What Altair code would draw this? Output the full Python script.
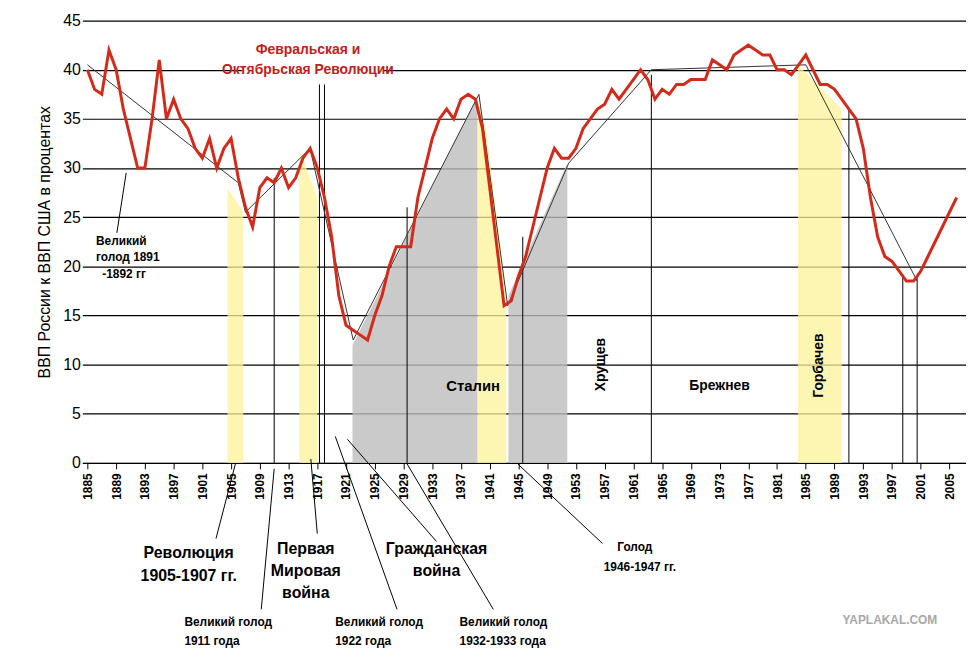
import altair as alt
import pandas as pd

# red series: Russia GDP as % of US GDP
years = list(range(1885, 2007))
gdp = [40, 38, 37.5, 42, 40, 36, 33, 30, 30, 35, 41, 35, 37, 35, 34, 32, 31, 33, 30, 32,
       33, 29, 26, 24, 28, 29, 28.5, 30, 28, 29, 31, 32, 30, 27, 23, 17, 14, 13.5, 13, 12.5,
       15, 17, 20, 22, 22, 22, 27, 30, 33, 35, 36, 35, 37, 37.5, 37, 34, 28, 22, 16, 16.5,
       19, 21, 24, 27, 30, 32, 31, 31, 32, 34, 35, 36, 36.5, 38, 37, 38, 39, 40, 39, 37,
       38, 37.5, 38.5, 38.5, 39, 39, 39, 41, 40.5, 40, 41.5, 42, 42.5, 42, 41.5, 41.5, 40, 40,
       39.5, 40.5, 41.5, 40, 38.5, 38.5, 38, 37, 36, 35, 32, 27, 23, 21, 20.5, 19.5, 18.5, 18.5,
       19.5, 21, 22.5, 24, 25.5, 27]

trend_years = [1885, 1906, 1907, 1916, 1922, 1939.5, 1943.5, 1952, 1963.5, 1985, 2000.5]
trend_vals = [40.5, 28.5, 25.5, 32, 12.5, 37.5, 16, 30.5, 40, 40.5, 18.5]

gray_years = [[1921.9, 1939.3], [1943.6, 1951.8]]
gray_tops = [[12.0, 37.3], [17.0, 30.5]]

yellow_years = [[1904.5, 1906.7], [1914.5, 1917.0], [1939.3, 1940.5, 1941.5, 1942.5, 1943.3], [1983.9, 1990.0]]
yellow_tops = [[28, 25.5], [31.9, 27], [37, 34, 28, 22, 16], [40.5, 36]]

vline_years = [1911, 1917.3, 1918, 1929.5, 1945.6, 1963.5, 1991, 1998.5, 2000.5]
vline_tops = [29, 38.5, 38.5, 26, 23, 39.5, 36, 19, 19]

# leader lines (year1, val1, year2, val2)
leaders = [
    (1890.4, 29.5, 1889.1, 23.4),
    (1905.6, -0.1, 1902.9, -7.7),
    (1916.1, 0.4, 1917.0, -7.2),
    (1921.2, 2.4, 1933.6, -8.0),
    (1944.9, -0.1, 1956.7, -8.2),
    (1911.0, -0.6, 1909.2, -14.9),
    (1919.5, 2.7, 1928.1, -14.9),
    (1929.5, -0.1, 1941.5, -14.9),
]

tick_years = list(range(1885, 2007, 4))

xs = alt.Scale(domain=[1884.3, 2007.3], nice=False, zero=False)
ys = alt.Scale(domain=[0, 45], nice=False)
FONT = "Liberation Sans"
YTITLE = "ВВП России к ВВП США в процентах"

XAX = alt.Axis(values=tick_years, format="d", labelAngle=270, labelAlign="right",
               labelBaseline="middle", labelFontSize=12, labelFontWeight="bold",
               labelOverlap=False, labelBound=False,
               grid=False, tickColor="black", domainColor="black", labelColor="black",
               labelFont=FONT, labelPadding=4, tickSize=6)
YAX = alt.Axis(values=list(range(0, 46, 5)), labelFontSize=16, titleFontSize=16,
               titleFontWeight="normal", grid=True, gridColor="black", gridWidth=1.2,
               domain=False, ticks=False, labelColor="black", titleColor="black",
               labelFont=FONT, titleFont=FONT, titlePadding=10)


def X(f="year"):
    return alt.X(f"{f}:Q", scale=xs, title="", axis=XAX)


def Y(f="v"):
    return alt.Y(f"{f}:Q", scale=ys, title=YTITLE, axis=YAX)


def texts(rows, size=15, bold=True, color="black", angle=0, align="center"):
    df = pd.DataFrame(rows, columns=["year", "v", "t"])
    return alt.Chart(df).mark_text(
        font=FONT, fontSize=size, fontWeight="bold" if bold else "normal",
        color=color, angle=angle, align=align, baseline="middle"
    ).encode(x=X(), y=Y(), text="t:N")


df_main = pd.DataFrame({"year": years, "v": gdp})
layers = []

for yy, tt in zip(gray_years, gray_tops):
    d = pd.DataFrame({"year": yy, "v": tt})
    layers.append(alt.Chart(d).mark_area(color="#bdbdbd", opacity=0.8).encode(x=X(), y=Y()))

for yy, tt in zip(yellow_years, yellow_tops):
    d = pd.DataFrame({"year": yy, "v": tt})
    layers.append(alt.Chart(d).mark_area(color="#fcf39a", opacity=0.75).encode(x=X(), y=Y()))

vl = pd.DataFrame({"year": vline_years, "v": vline_tops, "z": 0})
layers.append(alt.Chart(vl).mark_rule(color="black", strokeWidth=1).encode(x=X(), y=Y(), y2="z:Q"))

ld = pd.DataFrame(leaders, columns=["year", "v", "year2", "v2"])
layers.append(alt.Chart(ld).mark_rule(color="black", strokeWidth=1).encode(
    x=X(), y=Y(), x2="year2:Q", y2="v2:Q"))

td = pd.DataFrame({"year": trend_years, "v": trend_vals})
layers.append(alt.Chart(td).mark_line(color="#333333", strokeWidth=1).encode(x=X(), y=Y()))

layers.append(alt.Chart(df_main).mark_line(color="#d42a1a", strokeWidth=3).encode(x=X(), y=Y()))

# white box behind the red title
box = pd.DataFrame({"year": [1906.5], "year2": [1926.2], "v": [39.2], "v2": [41.0]})
layers.append(alt.Chart(box).mark_rect(color="white").encode(x=X(), x2="year2:Q", y=Y(), y2="v2:Q"))

layers += [
    texts([(1915.7, 42.0, "Февральская и"), (1915.7, 40.0, "Октябрьская Революции")],
          size=14, color="#c0201a"),
    texts([(1886.2, 22.6, "Великий"), (1886.2, 20.9, "голод 1891")], size=12, align="left"),
    texts([(1890.1, 19.2, "-1892 гг")], size=12),
    texts([(1938.7, 7.8, "Сталин")], size=15),
    texts([(1973.0, 7.8, "Брежнев")], size=14),
    texts([(1956.5, 10.0, "Хрущев"), (1986.9, 9.9, "Горбачев")], size=14, angle=270),
    texts([(1899.1, -9.2, "Революция"), (1899.1, -11.5, "1905-1907 гг."),
           (1915.4, -8.8, "Первая"), (1915.4, -11.0, "Мировая"), (1915.4, -13.2, "война"),
           (1933.6, -8.8, "Гражданская"), (1933.6, -11.0, "война")], size=16),
    texts([(1961.2, -8.6, "Голод"), (1961.9, -10.6, "1946-1947 гг.")], size=12),
    texts([(1898.5, -16.2, "Великий голод"), (1898.5, -18.1, "1911 года"),
           (1919.5, -16.2, "Великий голод"), (1919.5, -18.1, "1922 года"),
           (1936.8, -16.2, "Великий голод"), (1936.8, -18.1, "1932-1933 года")],
          size=12, align="left"),
    texts([(1996.7, -16.0, "YAPLAKAL.COM")], size=12, color="#a8a8a8"),
]

chart = alt.layer(*layers).properties(
    width=891, height=446,
    autosize=alt.AutoSizeParams(type="none"),
    padding={"left": 75, "top": 10, "right": 0, "bottom": 190},
    background="white",
).configure_view(strokeWidth=0)

chart.save("out.html", embed_options={"renderer": "svg", "actions": False})
